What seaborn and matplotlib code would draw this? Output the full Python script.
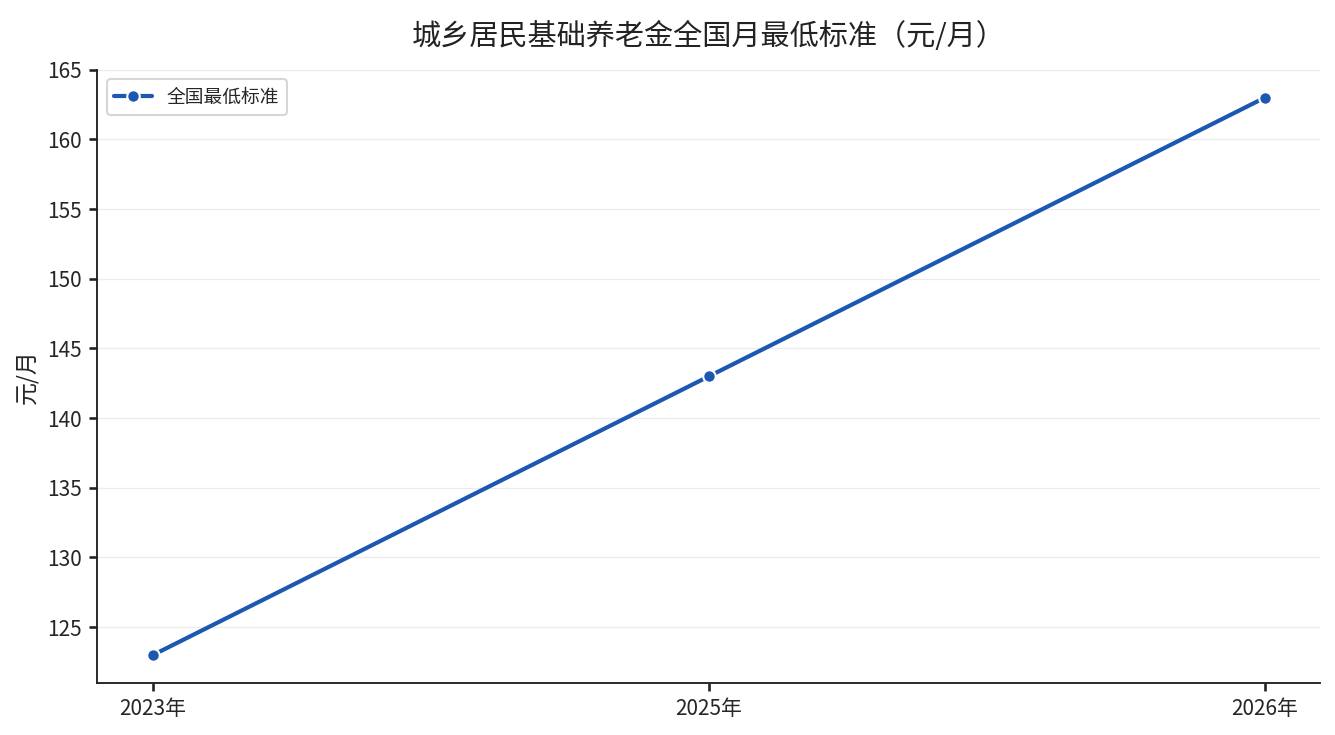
import matplotlib
matplotlib.use("Agg")
import matplotlib.pyplot as plt
import seaborn as sns
import pandas as pd

years = ["2023年", "2025年", "2026年"]
values = [123, 143, 163]
series_name = "全国最低标准"
title = "城乡居民基础养老金全国月最低标准（元/月）"
ylabel = "元/月"

sns.set_theme(style="white")
plt.rcParams['font.family'] = ['Noto Sans CJK SC', 'DejaVu Sans']

df = pd.DataFrame({"year": years, "value": values, "series": series_name})

fig, ax = plt.subplots(figsize=(8.9, 4.9), dpi=150)
sns.lineplot(data=df, x="year", y="value", hue="series", palette=["#1c57b0"],
             marker="o", markersize=6, markeredgecolor="white", markeredgewidth=1,
             linewidth=2, sort=False, ax=ax)

ax.set_title(title, fontsize=14, pad=12, color="#222222")
ax.set_xlabel("")
ax.set_ylabel(ylabel, fontsize=11)
ax.set_yticks([125, 130, 135, 140, 145, 150, 155, 160, 165])
ax.tick_params(axis="both", labelsize=10, length=4, color="#222222", left=True, bottom=True)
ax.yaxis.grid(True, color="#ebebeb", linewidth=0.6)
ax.set_axisbelow(True)
for s in ["top", "right"]:
    ax.spines[s].set_visible(False)
for s in ["left", "bottom"]:
    ax.spines[s].set_color("#222222")
    ax.spines[s].set_linewidth(0.9)

leg = ax.legend(loc="upper left", fontsize=9, frameon=True)
leg.get_frame().set_edgecolor("#cccccc")

fig.subplots_adjust(left=0.073, right=0.989, top=0.905, bottom=0.071)
fig.savefig("out.png", dpi=150)
